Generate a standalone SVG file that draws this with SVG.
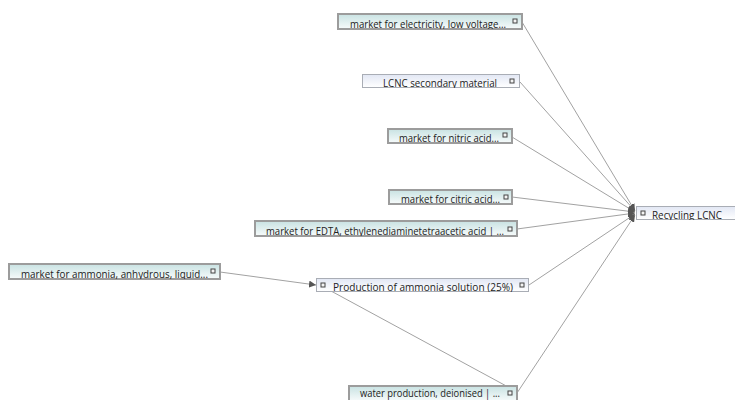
<svg xmlns="http://www.w3.org/2000/svg" width="735" height="400" viewBox="0 0 735 400">
  <style>
    .lnk { stroke: #a2a2a2; stroke-width: 1; fill: none; }
    .box { fill: url(#teal); stroke: #9c9c9c; stroke-width: 2; }
    .boxl { fill: url(#pale); stroke: #a9adb5; stroke-width: 1; }
    .lbl { font-family: "Open Sans", "Noto Sans", "DejaVu Sans", sans-serif; font-size: 11px; fill: #222; }
    .ico { fill: #f4f4f4; stroke: #444; stroke-width: 1; }
  </style>
  <defs>
    <linearGradient id="teal" x1="0" y1="0" x2="0" y2="1">
      <stop offset="0" stop-color="#c8e2e2"/>
      <stop offset="1" stop-color="#f7fbfb"/>
    </linearGradient>
    <linearGradient id="pale" x1="0" y1="0" x2="0" y2="1">
      <stop offset="0" stop-color="#e2e7f4"/>
      <stop offset="1" stop-color="#ffffff"/>
    </linearGradient>
    <marker id="arr" viewBox="0 0 8 8" refX="8" refY="4" markerWidth="7" markerHeight="7" markerUnits="userSpaceOnUse" orient="auto">
      <path d="M0,0 L8,4 L0,8 z" fill="#555"/>
    </marker>
    <clipPath id="c1"><rect x="338" y="14" width="184" height="15"/></clipPath>
    <clipPath id="c2"><rect x="362" y="74" width="158" height="14"/></clipPath>
    <clipPath id="c3"><rect x="388" y="129" width="124" height="14"/></clipPath>
    <clipPath id="c4"><rect x="389" y="190" width="123" height="14"/></clipPath>
    <clipPath id="c5"><rect x="255" y="221" width="262" height="15"/></clipPath>
    <clipPath id="c6"><rect x="9" y="264" width="211" height="15"/></clipPath>
    <clipPath id="c7"><rect x="316" y="278" width="213" height="14"/></clipPath>
    <clipPath id="c9"><rect x="636" y="206" width="99" height="14"/></clipPath>
  </defs>

  <g id="connectors">
    <line class="lnk" x1="522" y1="22" x2="635" y2="211" marker-end="url(#arr)"/>
    <line class="lnk" x1="520" y1="82" x2="635" y2="211" marker-end="url(#arr)"/>
    <line class="lnk" x1="512" y1="137" x2="635" y2="212" marker-end="url(#arr)"/>
    <line class="lnk" x1="512" y1="197" x2="635" y2="212" marker-end="url(#arr)"/>
    <line class="lnk" x1="517" y1="229" x2="635" y2="213" marker-end="url(#arr)"/>
    <line class="lnk" x1="529" y1="285" x2="635" y2="214" marker-end="url(#arr)"/>
    <line class="lnk" x1="517" y1="393" x2="635" y2="215" marker-end="url(#arr)"/>
    <line class="lnk" x1="220" y1="272" x2="316" y2="285" marker-end="url(#arr)"/>
    <line class="lnk" x1="510" y1="388" x2="331" y2="291"/>
  </g>

  <g id="n-electricity">
    <rect class="box" x="338" y="14" width="184" height="15"/>
    <text class="lbl" clip-path="url(#c1)" x="350" y="28" textLength="156" lengthAdjust="spacingAndGlyphs">market for electricity, low voltage...</text>
    <rect class="ico" x="513" y="19" width="4" height="4"/>
  </g>

  <g id="n-lcnc-secondary">
    <rect class="boxl" x="362.5" y="74.5" width="157" height="13"/>
    <text class="lbl" clip-path="url(#c2)" x="383" y="87" textLength="114" lengthAdjust="spacingAndGlyphs">LCNC secondary material</text>
    <rect class="ico" x="510" y="79" width="4" height="4"/>
  </g>

  <g id="n-nitric">
    <rect class="box" x="388" y="129" width="124" height="14"/>
    <text class="lbl" clip-path="url(#c3)" x="399" y="142" textLength="100" lengthAdjust="spacingAndGlyphs">market for nitric acid...</text>
    <rect class="ico" x="503" y="133" width="4" height="4"/>
  </g>

  <g id="n-citric">
    <rect class="box" x="389" y="190" width="123" height="14"/>
    <text class="lbl" clip-path="url(#c4)" x="401" y="203" textLength="99" lengthAdjust="spacingAndGlyphs">market for citric acid...</text>
    <rect class="ico" x="504" y="195" width="4" height="4"/>
  </g>

  <g id="n-edta">
    <rect class="box" x="255" y="221" width="262" height="15"/>
    <text class="lbl" clip-path="url(#c5)" x="266" y="235" textLength="238" lengthAdjust="spacingAndGlyphs">market for EDTA, ethylenediaminetetraacetic acid | ...</text>
    <rect class="ico" x="508" y="227" width="4" height="4"/>
  </g>

  <g id="n-ammonia">
    <rect class="box" x="9" y="264" width="211" height="15"/>
    <text class="lbl" clip-path="url(#c6)" x="21" y="278" textLength="187" lengthAdjust="spacingAndGlyphs">market for ammonia, anhydrous, liquid...</text>
    <rect class="ico" x="211" y="269" width="4" height="4"/>
  </g>

  <g id="n-production">
    <rect class="boxl" x="316.5" y="278.5" width="212" height="13"/>
    <rect class="ico" x="321" y="283" width="4" height="4"/>
    <text class="lbl" clip-path="url(#c7)" x="333" y="291" textLength="180" lengthAdjust="spacingAndGlyphs">Production of ammonia solution (25%)</text>
    <rect class="ico" x="520" y="283" width="4" height="4"/>
  </g>

  <g id="n-water">
    <rect class="box" x="349" y="386" width="168" height="15"/>
    <text class="lbl" x="360" y="397" textLength="140" lengthAdjust="spacingAndGlyphs">water production, deionised | ...</text>
    <rect class="ico" x="508" y="391" width="4" height="4"/>
  </g>

  <g id="n-recycling">
    <rect class="boxl" x="636.5" y="206.5" width="100" height="13"/>
    <rect class="ico" x="641" y="211" width="4" height="4"/>
    <text class="lbl" clip-path="url(#c9)" x="652" y="219" textLength="70" lengthAdjust="spacingAndGlyphs">Recycling LCNC</text>
  </g>
</svg>
